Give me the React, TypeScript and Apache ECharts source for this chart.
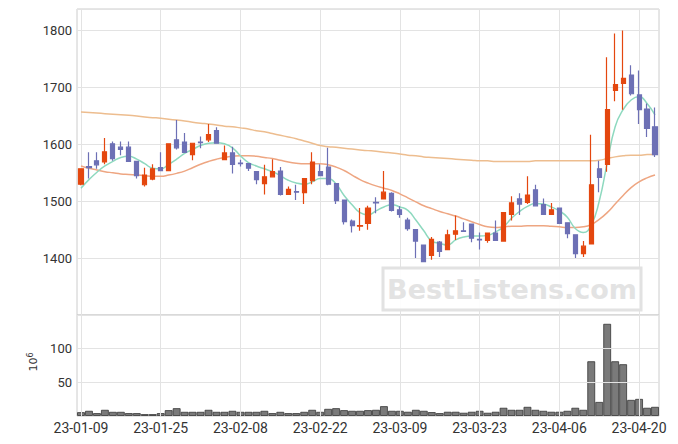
import React, { useEffect, useRef } from 'react';
import * as echarts from 'echarts';

const dates = [
  '23-01-09','23-01-10','23-01-11','23-01-12','23-01-13','23-01-16','23-01-17','23-01-18','23-01-19','23-01-20',
  '23-01-25','23-01-26','23-01-27','23-01-30','23-01-31',
  '23-02-01','23-02-02','23-02-03','23-02-06','23-02-07','23-02-08','23-02-09','23-02-10','23-02-13','23-02-14',
  '23-02-15','23-02-16','23-02-17','23-02-20','23-02-21','23-02-22','23-02-23','23-02-24','23-02-27','23-02-28',
  '23-03-02','23-03-03','23-03-06','23-03-07','23-03-08','23-03-09','23-03-10','23-03-13','23-03-14','23-03-15',
  '23-03-16','23-03-17','23-03-20','23-03-21','23-03-22','23-03-23','23-03-24','23-03-27','23-03-28','23-03-29',
  '23-03-30','23-03-31',
  '23-04-03','23-04-04','23-04-05','23-04-06','23-04-07','23-04-10','23-04-11','23-04-12','23-04-13','23-04-14',
  '23-04-17','23-04-18','23-04-19','23-04-20','23-04-21','23-04-24'
];

const opens = [
  1530,1561,1571,1569,1601,1595,1595,1570,1529,1539,
  1559,1554,1608,1604,1582,1604,1608,1624,1573,1585,
  1567,1566,1552,1531,1543,1553,1512,1517,1515,1536,
  1552,1560,1531,1502,1465,1456,1461,1498,1504,1514,
  1485,1467,1450,1423,1405,1428,1415,1442,1448,1460,
  1433,1431,1444,1430,1477,1504,1498,1520,1494,1477,
  1488,1462,1441,1408,1425,1557,1565,1695,1707,1722,
  1687,1662,1631
];
const closes = [
  1557,1559,1564,1587,1575,1591,1570,1545,1546,1557,
  1554,1601,1594,1586,1602,1603,1617,1602,1585,1565,
  1566,1558,1538,1543,1552,1512,1521,1516,1540,1569,
  1545,1530,1501,1464,1457,1457,1488,1497,1516,1484,
  1477,1452,1430,1394,1433,1412,1441,1448,1447,1435,
  1432,1444,1431,1480,1497,1495,1511,1492,1477,1485,
  1461,1443,1408,1421,1529,1542,1661,1705,1716,1689,
  1661,1628,1582
];
const lows = [
  1528,1540,1557,1565,1571,1581,1569,1540,1526,1537,
  1553,1553,1591,1585,1572,1593,1604,1601,1572,1549,
  1561,1553,1530,1512,1542,1510,1511,1502,1495,1530,
  1545,1528,1495,1459,1445,1448,1450,1479,1503,1482,
  1471,1448,1400,1393,1397,1402,1415,1432,1446,1428,
  1415,1427,1431,1430,1466,1476,1495,1492,1477,1477,
  1461,1435,1400,1402,1425,1516,1552,1676,1661,1686,
  1636,1613,1578
];
const highs = [
  1557,1586,1586,1611,1605,1605,1605,1570,1559,1565,
  1586,1601,1643,1620,1602,1614,1636,1630,1598,1596,
  1573,1566,1552,1564,1574,1560,1526,1529,1540,1586,
  1565,1594,1531,1502,1468,1488,1492,1507,1553,1516,
  1491,1471,1450,1423,1437,1430,1450,1475,1463,1460,
  1445,1444,1466,1480,1509,1514,1544,1529,1505,1497,
  1488,1462,1441,1430,1617,1571,1753,1795,1800,1739,
  1730,1672,1665
];

const ma5 = [
  1523,1538,1551,1562,1570,1577,1579,1574,1566,1558,
  1557,1565,1574,1584,1591,1598,1602,1603,1601,1594,
  1580,1568,1562,1557,1552,1545,1537,1532,1530,1534,
  1540,1540,1530,1510,1494,1480,1476,1483,1490,1494,
  1490,1484,1467,1448,1430,1426,1423,1432,1437,1439,
  1439,1440,1446,1455,1470,1482,1491,1496,1495,1490,
  1483,1472,1452,1445,1458,1500,1567,1631,1661,1678,
  1684,1672,1652
];
const ma20 = [
  1562,1558,1555,1552,1550,1548,1547,1546,1545,1544,
  1544,1546,1549,1553,1559,1565,1570,1574,1577,1579,
  1580,1580,1579,1577,1575,1572,1569,1567,1566,1566,
  1566,1564,1560,1554,1546,1538,1532,1527,1523,1519,
  1513,1506,1499,1492,1487,1482,1478,1474,1469,1464,
  1459,1455,1454,1455,1456,1456,1457,1457,1457,1456,
  1455,1454,1454,1455,1459,1468,1480,1495,1510,1524,
  1534,1541,1546
];
const maLong = [
  1657,1656,1655,1654,1653,1652,1651,1650,1648,1647,
  1646,1644,1643,1641,1639,1637,1636,1634,1632,1631,
  1629,1627,1624,1622,1619,1616,1613,1610,1606,1602,
  1598,1596,1595,1593,1592,1590,1589,1588,1586,1585,
  1583,1581,1580,1578,1577,1576,1575,1574,1573,1572,
  1571,1571,1570,1570,1570,1570,1570,1571,1571,1571,
  1571,1571,1571,1571,1571,1572,1575,1578,1580,1581,
  1581,1582,1582
];

const volumes = [
  5.8,7.8,4.4,9.3,6.3,6.3,4.4,4.4,2.9,2.9,
  4.4,8.8,11.7,6.3,6.3,6.3,9.3,6.3,6.3,7.8,
  6.3,6.3,6.3,7.8,4.4,6.3,4.4,4.4,6.3,9.3,
  6.3,10.7,11.7,8.8,7.8,7.8,8.8,9.3,14.7,7.8,
  7.8,6.4,9.3,7.8,5.9,4.4,6.4,6.4,4.9,6.4,
  7.8,4.9,6.4,12.3,9.3,9.3,13.7,9.3,7.8,6.4,
  6.4,7.8,12.3,9.3,81.4,21,137,81.4,77,24,
  25.5,12.3,13.7
];

const UP = '#e4470f';
const DOWN = '#6d70b5';
const GRID_LINE = '#e3e3e3';
const AXIS_FONT = 'Roboto';

export default function App() {
  const ref = useRef<HTMLDivElement>(null);
  useEffect(() => {
    const chart = echarts.init(ref.current!, null, { renderer: 'svg' });
    const candles = dates.map((_, i) => [opens[i], closes[i], lows[i], highs[i]]);
    chart.setOption({
      animation: false,
      backgroundColor: '#fff',
      grid: [
        { left: 77, right: 19, top: 9, height: 306, show: true, borderColor: '#cccccc', borderWidth: 1 },
        { left: 77, right: 19, top: 315, height: 101, show: true, borderColor: '#cccccc', borderWidth: 1 }
      ],
      xAxis: [
        {
          type: 'category', gridIndex: 0, data: dates, boundaryGap: true,
          axisLine: { show: false }, axisTick: { show: false }, axisLabel: { show: false, interval: 9 },
          splitLine: { show: true, interval: 9, alignWithLabel: true, lineStyle: { color: GRID_LINE } }
        },
        {
          type: 'category', gridIndex: 1, data: dates, boundaryGap: true, z: 3,
          axisLine: { show: false }, axisTick: { show: false },
          axisLabel: { interval: 9, fontSize: 14, color: '#333', fontFamily: AXIS_FONT, margin: 5 },
          splitLine: { show: true, interval: 9, alignWithLabel: true, lineStyle: { color: GRID_LINE } }
        }
      ],
      yAxis: [
        {
          type: 'value', gridIndex: 0, min: 1300, max: 1838, interval: 100,
          axisLine: { show: false }, axisTick: { show: false },
          axisLabel: {
            fontSize: 13, color: '#333', fontFamily: AXIS_FONT, margin: 5,
            formatter: (v: number) => (v % 100 === 0 && v > 1300 ? String(v) : '')
          },
          splitLine: { lineStyle: { color: GRID_LINE } }
        },
        {
          type: 'value', gridIndex: 1, min: 0, max: 150, interval: 50, z: 3,
          axisLine: { show: false }, axisTick: { show: false },
          axisLabel: {
            fontSize: 13, color: '#333', fontFamily: AXIS_FONT, margin: 5,
            formatter: (v: number) => (v === 50 || v === 100 ? String(v) : '')
          },
          splitLine: { lineStyle: { color: GRID_LINE } }
        }
      ],
      series: [
        {
          type: 'line', name: 'MA long', xAxisIndex: 0, yAxisIndex: 0, data: maLong,
          smooth: true, symbol: 'none', z: 2, lineStyle: { width: 1.5, color: '#edbd8f' }
        },
        {
          type: 'line', name: 'MA20', xAxisIndex: 0, yAxisIndex: 0, data: ma20,
          smooth: true, symbol: 'none', z: 2, lineStyle: { width: 1.5, color: '#eea682' }
        },
        {
          type: 'line', name: 'MA5', xAxisIndex: 0, yAxisIndex: 0, data: ma5,
          smooth: true, symbol: 'none', z: 2, lineStyle: { width: 1.5, color: '#8ed9bf' }
        },
        {
          type: 'candlestick', name: 'price', xAxisIndex: 0, yAxisIndex: 0, data: candles,
          barWidth: 4.6, z: 4,
          itemStyle: { color: UP, color0: DOWN, borderColor: UP, borderColor0: DOWN, borderWidth: 1.2 }
        },
        {
          type: 'bar', name: 'volume', xAxisIndex: 1, yAxisIndex: 1, data: volumes,
          barCategoryGap: '0%', z: 2,
          itemStyle: { color: '#555555', opacity: 0.78, borderColor: '#333333', borderWidth: 1 }
        }
      ],
      graphic: [
        {
          type: 'rect', z: 100,
          shape: { x: 383, y: 268, width: 258, height: 42 },
          style: { fill: 'rgba(255,255,255,0.92)', stroke: '#e2e2e2', lineWidth: 3 }
        },
        {
          type: 'text', z: 101, x: 512, y: 289,
          style: {
            text: 'BestListens.com', fill: '#e3e3e3',
            font: 'bold 27px "DejaVu Sans"', align: 'center', verticalAlign: 'middle'
          }
        },
        {
          type: 'text', z: 101, x: 33, y: 362, rotation: Math.PI / 2,
          style: {
            text: '10{s|6}', fill: '#333', font: '11px "DejaVu Sans"',
            align: 'center', verticalAlign: 'middle',
            rich: { s: { fontSize: 8, fontFamily: 'DejaVu Sans', fill: '#333', verticalAlign: 'top', lineHeight: 14 } }
          }
        }
      ]
    });
    return () => chart.dispose();
  }, []);
  return <div ref={ref} style={{ position: 'absolute', left: 0, top: 0, width: 678, height: 444 }} />;
}
